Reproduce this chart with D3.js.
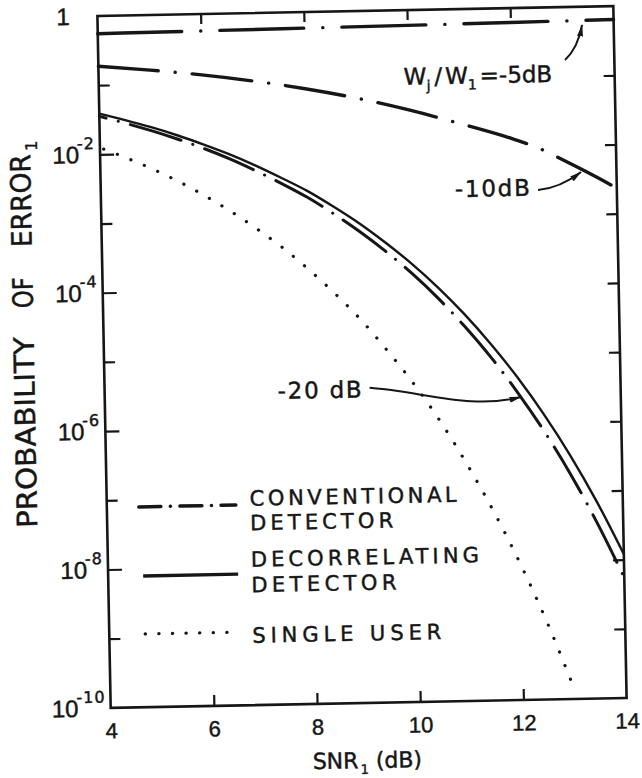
<!DOCTYPE html>
<html>
<head>
<meta charset="utf-8">
<title>Probability of error vs SNR</title>
<script src="https://cdn.jsdelivr.net/npm/d3@7"></script>
<style>
  html, body { margin: 0; padding: 0; background: #fff; }
  svg { display: block; }
  text { font-family: "DejaVu Sans", sans-serif; fill: #161616; stroke: #161616; stroke-width: 0.45; }
  .num { font-family: "Liberation Sans", "DejaVu Sans", sans-serif; }
</style>
</head>
<body>
<svg id="chart" width="642" height="778"></svg>
<script>
// ---- data -------------------------------------------------------------
// SNR grid (dB) for the decorrelating and the -20 dB conventional curves
const snrFine = [4, 4.5, 5, 5.5, 6, 6.5, 7, 7.5, 8, 8.5, 9, 9.5, 10, 10.5, 11, 11.5, 12, 12.5, 13, 13.5, 14];
const decorrelating = [0.0388, 0.0308, 0.0239, 0.0180, 0.0131, 0.0093, 0.0063, 0.0041, 0.0026, 0.00152,
  8.5e-4, 4.4e-4, 2.15e-4, 9.6e-5, 3.9e-5, 1.42e-5, 4.65e-6, 1.33e-6, 3.3e-7, 6.9e-8, 1.2e-8];
const conventionalMinus20 = [0.0354, 0.0278, 0.0213, 0.0159, 0.0115, 0.0080, 0.0053, 0.0034, 0.0021, 0.0012,
  6.5e-4, 3.3e-4, 1.56e-4, 6.7e-5, 2.6e-5, 9.1e-6, 2.8e-6, 7.6e-7, 1.76e-7, 3.4e-8, 5.5e-9];

// single-user bound, drawn until it leaves the bottom of the plot
const snrSingle = [4, 4.5, 5, 5.5, 6, 6.5, 7, 7.5, 8, 8.5, 9, 9.5, 10, 10.5, 11, 11.5, 12, 12.5, 13];
const singleUser = [0.0125, 0.0088, 0.0060, 0.0039, 0.0024, 0.0014, 7.7e-4, 4.0e-4, 1.9e-4, 8.4e-5,
  3.4e-5, 1.2e-5, 3.9e-6, 1.1e-6, 2.6e-7, 5.3e-8, 9.0e-9, 1.24e-9, 1.34e-10];

// conventional detector, W_j/W_1 = -10 dB
const snrMinus10 = [4, 5, 6, 7, 8, 9, 10, 11, 12, 12.5, 13, 13.5, 14];
const conventionalMinus10 = [0.188, 0.160, 0.132, 0.104, 0.078, 0.055, 0.036, 0.022, 0.0129, 0.0093, 0.0060, 0.0038, 0.00234];

// conventional detector, W_j/W_1 = -5 dB
const snrMinus5 = [4, 6, 8, 10, 12, 14];
const conventionalMinus5 = [0.555, 0.57, 0.585, 0.60, 0.62, 0.64];

// axis ticks and labels
const xTickValues = [4, 6, 8, 10, 12, 14];
const xInnerTicks = [6, 8, 10, 12];
const yMajorTicks = [1e-2, 1e-4, 1e-6, 1e-8];
const yMinorTicks = [1e-1, 1e-3, 1e-5, 1e-7, 1e-9];
const yRightTicks = [1e-1, 1e-2, 1e-3, 1e-4, 1e-5, 1e-6, 1e-7, 1e-8, 1e-9];
const yLabelValues = [1e-2, 1e-4, 1e-6, 1e-8, 1e-10];
const yLabelExponents = ["-2", "-4", "-6", "-8", "-10"];

// ---- drawing ----------------------------------------------------------
const ink = "#161616";
const svg = d3.select("#chart");
svg.append("rect").attr("width", 642).attr("height", 778).attr("fill", "#fff");

const defs = svg.append("defs");
defs.append("marker")
  .attr("id", "arrowhead")
  .attr("viewBox", "0 0 12 6")
  .attr("refX", 11.5).attr("refY", 3)
  .attr("markerWidth", 12).attr("markerHeight", 6)
  .attr("markerUnits", "userSpaceOnUse")
  .attr("orient", "auto")
  .append("path").attr("d", "M0,0 L12,3 L0,6 Z").attr("fill", ink);

const x = d3.scaleLinear().domain([4, 14]).range([104, 620]);
const y = d3.scaleLog().domain([1, 1e-10]).range([11, 703]);

// the whole figure sits slightly turned on the page
const g = svg.append("g").attr("transform", "rotate(-1.1 362 357)");

function styleAxis(sel) {
  sel.select(".domain").remove();
  sel.selectAll(".tick line").attr("stroke", ink).attr("stroke-width", 2.2);
}

// tick marks pointing into the frame
g.append("g").attr("transform", `translate(${x(4)},0)`)
  .call(d3.axisLeft(y).tickValues(yMajorTicks).tickSizeInner(-14).tickSizeOuter(0).tickFormat(""))
  .call(styleAxis);
g.append("g").attr("transform", `translate(${x(4)},0)`)
  .call(d3.axisLeft(y).tickValues(yMinorTicks).tickSizeInner(-11).tickSizeOuter(0).tickFormat(""))
  .call(styleAxis);
g.append("g").attr("transform", `translate(${x(14)},0)`)
  .call(d3.axisRight(y).tickValues(yRightTicks).tickSizeInner(-11).tickSizeOuter(0).tickFormat(""))
  .call(styleAxis);
g.append("g").attr("transform", `translate(0,${y(1)})`)
  .call(d3.axisTop(x).tickValues(xInnerTicks).tickSizeInner(-10).tickSizeOuter(0).tickFormat(""))
  .call(styleAxis);

// bottom axis with SNR labels
const bottom = g.append("g").attr("transform", `translate(0,${y(1e-10)})`)
  .call(d3.axisBottom(x).tickValues(xTickValues).tickSizeInner(-11).tickSizeOuter(0)
    .tickPadding(15).tickFormat(d3.format("d")))
  .call(styleAxis);
bottom.selectAll(".tick line").filter(d => d === 4 || d === 14).remove();
bottom.selectAll(".tick text")
  .attr("class", "num")
  .attr("font-size", 22)
  .attr("fill", ink);

// frame
g.append("rect")
  .attr("x", x(4)).attr("y", y(1))
  .attr("width", x(14) - x(4)).attr("height", y(1e-10) - y(1))
  .attr("fill", "none").attr("stroke", ink).attr("stroke-width", 2.6);

// y labels: "1" at the top, powers of ten below
g.append("text").attr("class", "num")
  .attr("x", 69.5).attr("y", y(1) + 8.5)
  .attr("text-anchor", "middle").attr("font-size", 24)
  .text("1");

const yLab = g.selectAll(".ylab").data(yLabelValues).enter().append("text")
  .attr("class", "ylab num")
  .attr("x", 99).attr("y", d => y(d) + 8.5)
  .attr("text-anchor", "end").attr("font-size", 24);
yLab.append("tspan").text("10");
yLab.append("tspan")
  .attr("dx", -2).attr("dy", -14)
  .attr("font-size", 16).attr("letter-spacing", 1)
  .style("font-family", "'DejaVu Sans', sans-serif")
  .text((d, i) => yLabelExponents[i]);

// curves
const line = (xs, ys) => d3.line()
  .x((d, i) => x(xs[i]))
  .y(d => y(d))
  .curve(d3.curveMonotoneX)(ys);

g.append("path").attr("d", line(snrMinus5, conventionalMinus5))
  .attr("fill", "none").attr("stroke", ink).attr("stroke-width", 3.4)
  .attr("stroke-linecap", "round").attr("stroke-dasharray", "84 19 0.1 19");

g.append("path").attr("d", line(snrMinus10, conventionalMinus10))
  .attr("fill", "none").attr("stroke", ink).attr("stroke-width", 3.4)
  .attr("stroke-linecap", "round").attr("stroke-dasharray", "60 17 0.1 17");

g.append("path").attr("d", line(snrFine, decorrelating))
  .attr("fill", "none").attr("stroke", ink).attr("stroke-width", 2.4);

g.append("path").attr("d", line(snrFine, conventionalMinus20))
  .attr("fill", "none").attr("stroke", ink).attr("stroke-width", 3)
  .attr("stroke-linecap", "round").attr("stroke-dasharray", "53 12.5 0.1 12.5")
  .attr("stroke-dashoffset", 46);

g.append("path").attr("d", line(snrSingle, singleUser))
  .attr("fill", "none").attr("stroke", ink).attr("stroke-width", 3.2)
  .attr("stroke-linecap", "round").attr("stroke-dasharray", "0.1 14.5")
  .attr("stroke-dashoffset", -4);

// annotations with arrows
const ann1 = g.append("text").attr("x", 409).attr("y", 85.7).attr("font-size", 23);
ann1.append("tspan").text("W");
ann1.append("tspan").attr("dy", 6).attr("font-size", 14).text("j");
ann1.append("tspan").attr("dy", -6).attr("dx", 4).text("/");
ann1.append("tspan").attr("dx", 3).text("W");
ann1.append("tspan").attr("dy", 6).attr("font-size", 14).text("1");
ann1.append("tspan").attr("dy", -6).attr("dx", 3).text("=-5dB");

g.append("path").attr("d", "M570.7,63.9 Q583.9,52.1 588.4,29.2")
  .attr("fill", "none").attr("stroke", ink).attr("stroke-width", 2)
  .attr("marker-end", "url(#arrowhead)");

g.append("text").attr("x", 458).attr("y", 198.9).attr("font-size", 23)
  .attr("textLength", 75).attr("lengthAdjust", "spacing")
  .text("-10dB");
g.append("path").attr("d", "M541.2,193.4 Q563.2,191.8 584.6,176.2")
  .attr("fill", "none").attr("stroke", ink).attr("stroke-width", 2)
  .attr("marker-end", "url(#arrowhead)");

g.append("text").attr("x", 277).attr("y", 397.4).attr("font-size", 23)
  .attr("textLength", 84).attr("lengthAdjust", "spacing")
  .text("-20 dB");
g.append("path").attr("d", "M369,388 C423,393 470,412 520.2,400")
  .attr("fill", "none").attr("stroke", ink).attr("stroke-width", 2)
  .attr("marker-end", "url(#arrowhead)");

// legend
const legend = g.append("g");
legend.append("line").attr("x1", 136).attr("x2", 233).attr("y1", 502.6).attr("y2", 502.6)
  .attr("stroke", ink).attr("stroke-width", 3.5).attr("stroke-linecap", "round")
  .attr("stroke-dasharray", "22 9.5 0.1 9.5");
legend.append("line").attr("x1", 139).attr("x2", 234).attr("y1", 571.7).attr("y2", 571.7)
  .attr("stroke", ink).attr("stroke-width", 3.4);
legend.append("line").attr("x1", 140).attr("x2", 235).attr("y1", 629.7).attr("y2", 629.7)
  .attr("stroke", ink).attr("stroke-width", 3.4).attr("stroke-linecap", "round")
  .attr("stroke-dasharray", "0.1 13.5");

const legendText = [
  { t: "CONVENTIONAL", y: 503.5, w: 207 },
  { t: "DETECTOR", y: 528, w: 143 },
  { t: "DECORRELATING", y: 564.5, w: 228 },
  { t: "DETECTOR", y: 590, w: 145 },
  { t: "SINGLE USER", y: 640.5, w: 189 }
];
legend.selectAll(".lt").data(legendText).enter().append("text")
  .attr("x", 247).attr("y", d => d.y).attr("font-size", 21)
  .attr("textLength", d => d.w).attr("lengthAdjust", "spacing")
  .text(d => d.t);

// axis titles
const xt = g.append("text").attr("x", 305).attr("y", 768).attr("font-size", 22);
xt.append("tspan").text("SNR");
xt.append("tspan").attr("dx", 2).attr("dy", 6).attr("font-size", 13).text("1");
xt.append("tspan").attr("dy", -6).text(" (dB)");

const yt = g.append("g").attr("transform", "translate(34,521.6) rotate(-90)");
yt.append("text").attr("x", 0).attr("y", 0).attr("font-size", 28)
  .attr("textLength", 191).attr("lengthAdjust", "spacingAndGlyphs").text("PROBABILITY");
yt.append("text").attr("x", 220).attr("y", 0).attr("font-size", 28)
  .attr("textLength", 31).attr("lengthAdjust", "spacingAndGlyphs").text("OF");
yt.append("text").attr("x", 281).attr("y", 0).attr("font-size", 28)
  .attr("textLength", 93).attr("lengthAdjust", "spacingAndGlyphs").text("ERROR");
yt.append("text").attr("x", 377).attr("y", 7).attr("font-size", 16).text("1");
</script>
</body>
</html>
